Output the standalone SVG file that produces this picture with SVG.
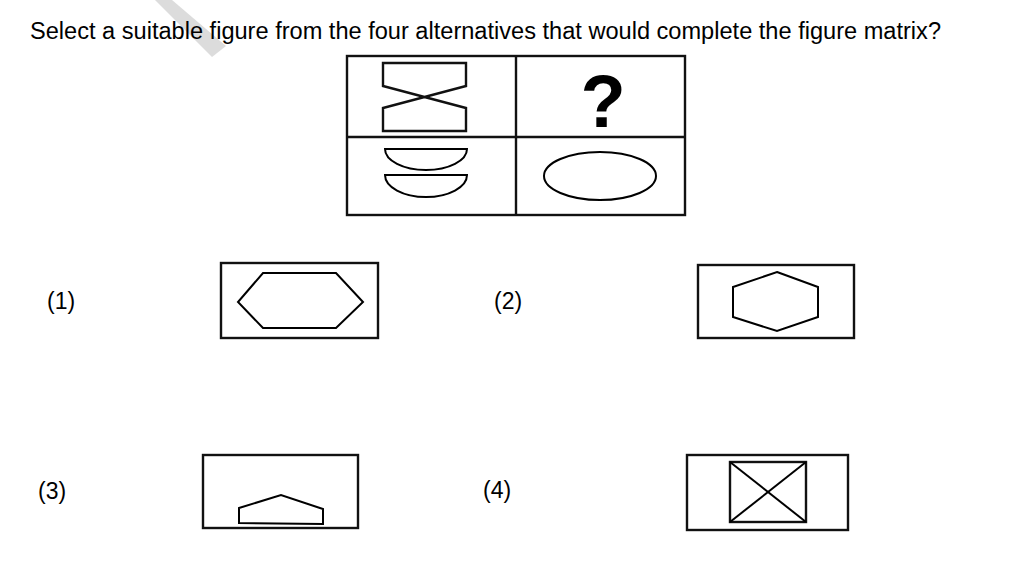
<svg xmlns="http://www.w3.org/2000/svg" width="1020" height="572" viewBox="0 0 1020 572">
<style>
.t{font-family:"Liberation Sans",Arial,sans-serif;font-size:23px;fill:#000}
.s{fill:none;stroke:#000;stroke-width:2}
.b{fill:none;stroke:#111;stroke-width:2.4}
</style>
<rect width="1020" height="572" fill="#fff"/>
<polygon points="155,0 172,0 226,46 212,57" fill="#dcdcdc"/>
<text class="t" x="30" y="39" textLength="911" lengthAdjust="spacingAndGlyphs">Select a suitable figure from the four alternatives that would complete the figure matrix?</text>
<g id="matrix">
<rect class="b" x="347" y="56" width="338" height="159"/>
<line class="b" x1="516" y1="56" x2="516" y2="215"/>
<line class="b" x1="347" y1="137" x2="685" y2="137"/>
<polygon class="b" points="383,63 466,63 466,86 383,108 383,131 466,131 466,108 383,86"/>
<text x="603" y="127" text-anchor="middle" font-family="Liberation Sans,Arial,sans-serif" font-weight="bold" font-size="74">?</text>
<path class="s" d="M385,149 L467,149 A41,21 0 0 1 385,149 Z"/>
<path class="s" d="M385,175 L467,175 A41,22 0 0 1 385,175 Z"/>
<ellipse class="s" cx="600" cy="176" rx="56" ry="24"/>
</g>
<g id="opt1">
<text class="t" x="47" y="309">(1)</text>
<rect class="b" x="221" y="263" width="157" height="75"/>
<polygon class="s" points="263,273 336,273 363,302 336,328 263,328 238,302"/>
</g>
<g id="opt2">
<text class="t" x="494" y="309">(2)</text>
<rect class="b" x="698" y="265" width="156" height="73"/>
<polygon class="s" points="777,272 818,287 818,317 777,331 733,317 733,287"/>
</g>
<g id="opt3">
<text class="t" x="38" y="499">(3)</text>
<rect class="b" x="203" y="455" width="155" height="73"/>
<polygon class="s" points="239,508 281,495 323,509 323,524 239,523"/>
</g>
<g id="opt4">
<text class="t" x="483" y="498">(4)</text>
<rect class="b" x="687" y="455" width="161" height="75"/>
<rect class="b" x="730" y="462" width="76" height="60"/>
<line class="s" x1="730" y1="462" x2="806" y2="522"/>
<line class="s" x1="806" y1="462" x2="730" y2="522"/>
</g>
</svg>
